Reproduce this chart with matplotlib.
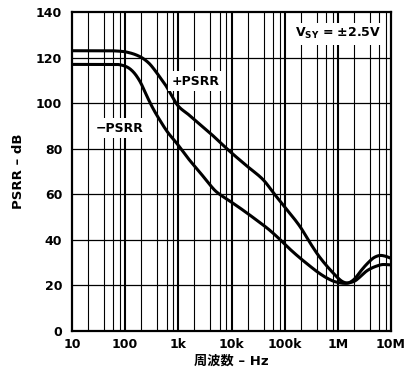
import numpy as np
import matplotlib
matplotlib.use("Agg")
import matplotlib.pyplot as plt
from matplotlib.ticker import FixedLocator, NullFormatter

plt.rcParams['font.family'] = ['DejaVu Sans', 'Noto Sans CJK JP']
plt.rcParams['font.weight'] = 'bold'

# +PSRR curve: log10(frequency / Hz) and dB
pos_logf = [1.0, 1.7, 1.95, 2.1, 2.28, 2.45, 2.53, 2.65, 2.78, 2.88, 2.97, 3.05,
            3.16, 3.28, 3.6, 3.97, 4.3, 4.6, 4.79, 4.97, 5.29, 5.48, 5.63, 5.79,
            5.91, 6.0, 6.1, 6.18, 6.3, 6.42, 6.55, 6.7, 6.8, 6.9, 7.0]
pos_db = [123, 123, 122.7, 122, 120.4, 117.5, 115.3, 111.5, 107.2, 103, 99.5, 97.5,
          95.6, 93.2, 86.8, 78.8, 72.2, 66.3, 60.6, 55.3, 45.8, 38.6, 33.3, 28.6,
          25.5, 23.3, 21.5, 21.0, 22.5, 26, 29.5, 32.5, 33.2, 32.8, 31.8]

# -PSRR curve
neg_logf = [1.0, 1.85, 1.95, 2.05, 2.15, 2.28, 2.40, 2.52, 2.65, 2.8, 2.97, 3.2,
            3.41, 3.6, 3.7, 3.8, 3.97, 4.2, 4.47, 4.7, 4.91, 5.1, 5.29, 5.48, 5.6,
            5.79, 5.95, 6.13, 6.3, 6.42, 6.55, 6.73, 6.85, 7.0]
neg_db = [117, 117, 116.6, 115.7, 113.8, 109.5, 103.5, 97.8, 92.6, 87.2, 82.4, 75.3,
          69.5, 64, 61.4, 59.6, 57, 53.3, 48.7, 44.6, 40.2, 35.9, 32, 28.4, 26.2,
          23.3, 21.6, 20.9, 21.7, 23.8, 26.5, 28.5, 29.2, 29]

x_ticks = [10, 100, 1e3, 1e4, 1e5, 1e6, 1e7]
x_ticklabels = ['10', '100', '1k', '10k', '100k', '1M', '10M']
y_ticks = list(range(0, 141, 20))


def pchip(x, y, xs):
    """Monotone piecewise-cubic (Fritsch-Carlson) interpolation."""
    x = np.asarray(x, float)
    y = np.asarray(y, float)
    h = np.diff(x)
    d = np.diff(y) / h
    m = np.zeros_like(y)
    for k in range(1, len(x) - 1):
        if d[k - 1] * d[k] > 0:
            w1 = 2 * h[k] + h[k - 1]
            w2 = h[k] + 2 * h[k - 1]
            m[k] = (w1 + w2) / (w1 / d[k - 1] + w2 / d[k])
    m[0] = d[0]
    m[-1] = d[-1]
    idx = np.clip(np.searchsorted(x, xs) - 1, 0, len(h) - 1)
    t = (xs - x[idx]) / h[idx]
    hh = h[idx]
    h00 = 2 * t**3 - 3 * t**2 + 1
    h10 = t**3 - 2 * t**2 + t
    h01 = -2 * t**3 + 3 * t**2
    h11 = t**3 - t**2
    return h00 * y[idx] + h10 * hh * m[idx] + h01 * y[idx + 1] + h11 * hh * m[idx + 1]


def smooth(v, n=9):
    """Light moving-average smoothing with edge padding."""
    pad = n // 2
    vp = np.pad(v, pad, mode='edge')
    return np.convolve(vp, np.ones(n) / n, mode='valid')


fig = plt.figure(figsize=(4.17, 3.76), dpi=100)
ax = fig.add_axes([72 / 417, 1 - 331 / 376, (391 - 72) / 417, (331 - 12) / 376])

ax.set_xscale('log')
ax.set_xlim(10, 1e7)
ax.set_ylim(0, 140)

# grid: minor lines at 2,4,6,8 of each decade, heavier decade lines
minor = [m * 10 ** d for d in range(1, 7) for m in (2, 4, 6, 8)]
for xv in minor:
    ax.axvline(xv, color='black', lw=0.8, zorder=1)
for xv in x_ticks[1:-1]:
    ax.axvline(xv, color='black', lw=1.5, zorder=1)
for yv in y_ticks[1:-1]:
    ax.axhline(yv, color='black', lw=0.9, zorder=1)

xs = np.linspace(1.0, 7.0, 1200)
ax.plot(10 ** xs, smooth(pchip(pos_logf, pos_db, xs), 15), color='black', lw=2.2, zorder=3)
ax.plot(10 ** xs, smooth(pchip(neg_logf, neg_db, xs), 15), color='black', lw=2.2, zorder=3)

ax.xaxis.set_major_locator(FixedLocator(x_ticks))
ax.xaxis.set_minor_locator(FixedLocator(minor))
ax.xaxis.set_minor_formatter(NullFormatter())
ax.set_xticklabels(x_ticklabels)
ax.set_yticks(y_ticks)
ax.tick_params(axis='both', which='both', length=0, labelsize=9)
ax.tick_params(axis='x', pad=5)
ax.tick_params(axis='y', pad=7)
for lbl in ax.get_xticklabels() + ax.get_yticklabels():
    lbl.set_fontweight('bold')

for sp in ax.spines.values():
    sp.set_linewidth(1.6)
    sp.set_zorder(4)

box = dict(facecolor='white', edgecolor='none', pad=2.5)
ax.text(10 ** 2.88, 109.7, '+PSRR', fontsize=9, fontweight='bold',
        ha='left', va='center', bbox=box, zorder=5)
ax.text(10 ** 1.45, 89, '\u2212PSRR', fontsize=9, fontweight='bold',
        ha='left', va='center', bbox=box, zorder=5)
ax.text(10 ** 5.2, 130.5, 'V$_{\\mathbf{SY}}$ = \u00b12.5V',
        fontsize=9, fontweight='bold', ha='left', va='center', bbox=box, zorder=5)

ax.set_ylabel('PSRR \u2013 dB', fontsize=9.5, fontweight='bold', labelpad=8)
ax.set_xlabel('周波数 \u2013 Hz', fontsize=9.5, fontweight='bold', labelpad=3)

fig.savefig('out.png', dpi=100)
